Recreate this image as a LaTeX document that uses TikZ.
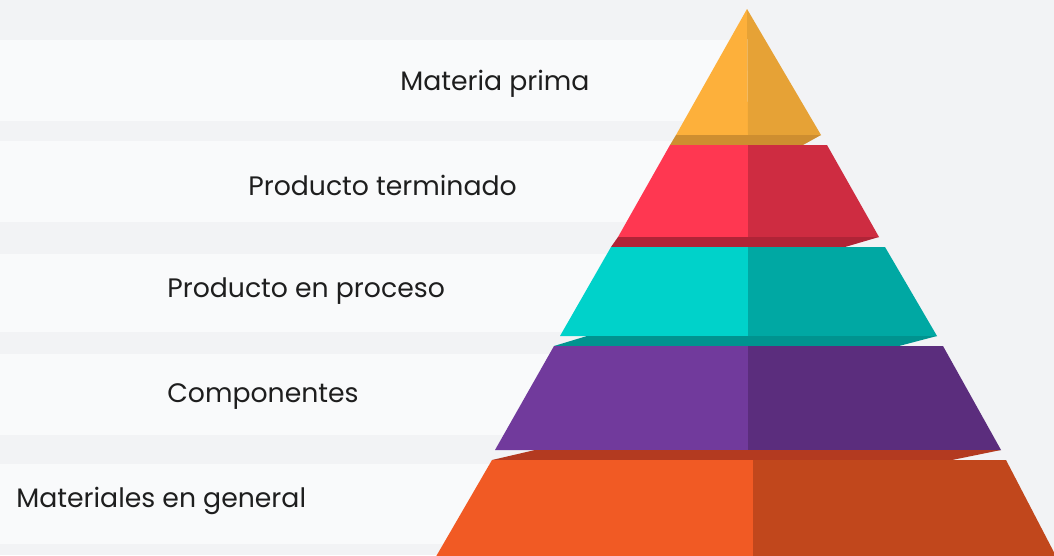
\documentclass[tikz,border=0pt]{standalone}
\usepackage{fontspec}
\setmainfont{Poppins}
\usepackage{tikz}
\usetikzlibrary{positioning}

\definecolor{bggray}{HTML}{F2F3F5}
\definecolor{bgstripe}{HTML}{F9FAFB}
\definecolor{labeltext}{HTML}{1E1E1E}
\definecolor{yelL}{HTML}{FDB03B}
\definecolor{yelR}{HTML}{E6A236}
\definecolor{yelS}{HTML}{CE8E30}
\definecolor{redL}{HTML}{FF3751}
\definecolor{redR}{HTML}{CE2C41}
\definecolor{redS}{HTML}{B02437}
\definecolor{teaL}{HTML}{00D2CA}
\definecolor{teaR}{HTML}{00A8A3}
\definecolor{teaS}{HTML}{00938F}
\definecolor{purL}{HTML}{713A9C}
\definecolor{purR}{HTML}{5B2D7D}
\definecolor{oraS}{HTML}{B33A20}
\definecolor{oraL}{HTML}{F15A24}
\definecolor{oraR}{HTML}{C1471C}

\tikzset{
  level/.style={anchor=base west, inner sep=0pt, text=labeltext,
    font=\fontsize{15.2}{18}\selectfont},
}

\begin{document}
\begin{tikzpicture}[x=0.02cm, y=-0.02cm]
  % background
  \fill[bggray] (0,0) rectangle (1054,555);
  \useasboundingbox (0,0) rectangle (1054,555);
  \foreach \ya/\yb in {40/121, 141/222, 254/332, 354/435, 464/544}
    \fill[bgstripe] (0,\ya) rectangle (750,\yb);

  % pyramid
  \begin{scope}
    \clip (0,0) rectangle (1054,555);
    % top
    \fill[yelL] (747,9) -- (676,135) -- (748,135) -- cycle;
    \fill[yelR] (747,9) -- (748,135) -- (821,135) -- cycle;
    \fill[yelS] (676,135) -- (821,135) -- (803,145) -- (670,145) -- cycle;
    % second
    \fill[redL] (670,145) -- (748,145) -- (748,237) -- (618,237) -- cycle;
    \fill[redR] (748,145) -- (827,145) -- (879,237) -- (748,237) -- cycle;
    \fill[redS] (618,237) -- (879,237) -- (845,247) -- (611,247) -- cycle;
    % third
    \fill[teaL] (611,247) -- (748,247) -- (748,336) -- (560,336) -- cycle;
    \fill[teaR] (748,247) -- (885,247) -- (937,336) -- (748,336) -- cycle;
    \fill[teaS] (587,336) -- (937,336) -- (899,346) -- (554,346) -- cycle;
    % fourth
    \fill[purL] (554,346) -- (748,346) -- (748,450) -- (495,450) -- cycle;
    \fill[purR] (748,346) -- (943,346) -- (1001,450) -- (748,450) -- cycle;
    \fill[oraS] (535,450) -- (1001,450) -- (952,460) -- (492,460) -- cycle;
    % base
    \fill[oraL] (492,460) -- (753,460) -- (753,560) -- (434,560) -- cycle;
    \fill[oraR] (753,460) -- (1006,460) -- (1058,560) -- (753,560) -- cycle;
  \end{scope}

  % labels
  \node[level] (prima) at (400,90) {Materia prima};
  \node[level] (terminado) at (248,195) {Producto terminado};
  \node[level] (proceso) at (167,297) {Producto en proceso};
  \node[level] (componentes) at (167,402) {Componentes};
  \node[level] (materiales) at (16,507) {Materiales en general};
\end{tikzpicture}
\end{document}
